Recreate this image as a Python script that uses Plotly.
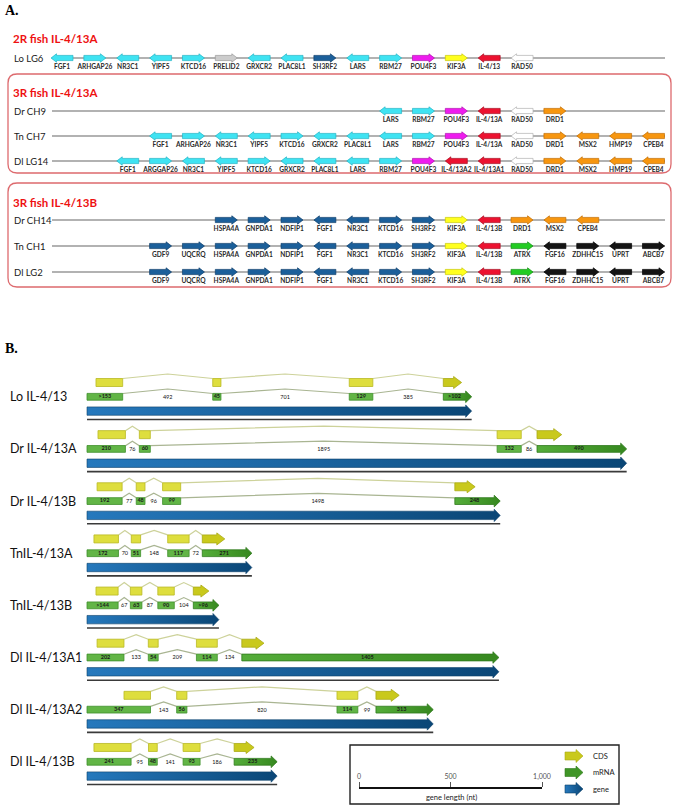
import plotly.graph_objects as go
from itertools import accumulate

W, H = 675, 806

# ---------------- Panel A data (synteny) ----------------
LO_LG6_GENES = ["FGF1", "ARHGAP26", "NR3C1", "YIPF5", "KTCD16", "PRELID2", "GRXCR2", "PLAC8L1",
                "SH3RF2", "LARS", "RBM27", "POU4F3", "KIF3A", "IL-4/13", "RAD50"]
LO_LG6_STRAND = [-1, 1, -1, -1, 1, 1, -1, -1, 1, -1, 1, 1, 1, -1, -1]

DR_CH9_GENES = ["LARS", "RBM27", "POU4F3", "IL-4/13A", "RAD50", "DRD1"]
DR_CH9_STRAND = [-1, 1, 1, -1, -1, 1]

TN_CH7_GENES = ["FGF1", "ARHGAP26", "NR3C1", "YIPF5", "KTCD16", "GRXCR2", "PLAC8L1", "LARS", "RBM27",
                "POU4F3", "IL-4/13A", "RAD50", "DRD1", "MSX2", "HMP19", "CPEB4"]
TN_CH7_STRAND = [-1, 1, -1, -1, 1, -1, -1, -1, 1, 1, -1, -1, 1, -1, -1, -1]

DL_LG14_GENES = ["FGF1", "ARGGAP26", "NR3C1", "YIPF5", "KTCD16", "GRXCR2", "PLAC8L1", "LARS", "RBM27",
                 "POU4F3", "IL-4/13A2", "IL-4/13A1", "RAD50", "DRD1", "MSX2", "HMP19", "CPEB4"]
DL_LG14_STRAND = [-1, 1, -1, -1, 1, -1, -1, -1, 1, 1, -1, -1, -1, 1, -1, -1, -1]

DR_CH14_GENES = ["HSPA4A", "GNPDA1", "NDFIP1", "FGF1", "NR3C1", "KTCD16", "SH3RF2", "KIF3A",
                 "IL-4/13B", "DRD1", "MSX2", "CPEB4"]
DR_CH14_STRAND = [1, 1, 1, -1, -1, 1, 1, 1, -1, 1, -1, -1]

TN_CH1_GENES = ["GDF9", "UQCRQ", "HSPA4A", "GNPDA1", "NDFIP1", "FGF1", "NR3C1", "KTCD16", "SH3RF2",
                "KIF3A", "IL-4/13B", "ATRX", "FGF16", "ZDHHC15", "UPRT", "ABCB7"]
TN_CH1_STRAND = [1, 1, 1, 1, 1, -1, -1, 1, 1, 1, -1, 1, -1, 1, -1, 1]

DL_LG2_GENES = ["GDF9", "UQCRQ", "HSPA4A", "GNPDA1", "NDFIP1", "FGF1", "NR3C1", "KTCD16", "SH3RF2",
                "KIF3A", "IL-4/13B", "ATRX", "FGF16", "ZDHHC15", "UPRT", "ABCB7"]
DL_LG2_STRAND = [1, 1, 1, 1, 1, -1, -1, 1, 1, 1, -1, 1, -1, 1, -1, 1]

A_ROW_NAMES = ["Lo LG6", "Dr CH9", "Tn CH7", "Dl LG14", "Dr CH14", "Tn CH1", "Dl LG2"]
A_ROW_FIRST_SLOT = [0, 10, 3, 2, 5, 3, 3]
A_ROW_GENES = [LO_LG6_GENES, DR_CH9_GENES, TN_CH7_GENES, DL_LG14_GENES, DR_CH14_GENES, TN_CH1_GENES, DL_LG2_GENES]
A_ROW_STRAND = [LO_LG6_STRAND, DR_CH9_STRAND, TN_CH7_STRAND, DL_LG14_STRAND, DR_CH14_STRAND, TN_CH1_STRAND, DL_LG2_STRAND]
A_ROW_BLOCK = ["A", "A", "A", "A", "B", "B", "B"]
A_BLOCK_TITLES = ["2R fish IL-4/13A", "3R fish IL-4/13A", "3R fish IL-4/13B"]

# ---------------- Panel B data (gene structures, nt) ----------------
B_NAMES = ["Lo IL-4/13", "Dr IL-4/13A", "Dr IL-4/13B", "TnIL-4/13A", "TnIL-4/13B",
           "Dl IL-4/13A1", "Dl IL-4/13A2", "Dl IL-4/13B"]
# exon, intron, exon, intron, exon, intron, exon (drawn lengths, nt)
B_SEGMENTS = [
    [195, 492, 45, 701, 129, 385, 155],
    [210, 76, 60, 1895, 132, 86, 490],
    [192, 77, 48, 96, 99, 1498, 248],
    [172, 70, 51, 148, 117, 72, 271],
    [170, 67, 63, 87, 90, 104, 140],
    [202, 133, 54, 209, 114, 134, 1405],
    [347, 143, 56, 820, 114, 99, 313],
    [241, 95, 48, 141, 93, 186, 235],
]
B_SEG_LABELS = [
    [">153", "492", "45", "701", "129", "385", ">102"],
    ["210", "76", "60", "1895", "132", "86", "490"],
    ["192", "77", "48", "96", "99", "1498", "248"],
    ["172", "70", "51", "148", "117", "72", "271"],
    [">144", "67", "63", "87", "90", "104", ">96"],
    ["202", "133", "54", "209", "114", "134", "1405"],
    ["347", "143", "56", "820", "114", "99", "313"],
    ["241", "95", "48", "141", "93", "186", "235"],
]
B_UTR5 = [49, 60, 55, 38, 49, 55, 202, 38]
B_UTR3 = [55, 355, 137, 148, 55, 1284, 186, 126]

SCALE_TICKS = [0, 500, 1000]
SCALE_TICK_TEXT = ["0", "500", "1,000"]
LEGEND_ITEMS = ["CDS", "mRNA", "gene"]

# ---------------- layout constants & styles ----------------
PX_PER_SLOT = 32.86
SLOT0_PX = 62
A_ROW_Y = [58, 111, 136, 161, 220, 246, 272]
A_TITLE_Y = [38, 92, 202]
A_LINE_PX = (52, 665)

NT_PX = 0.183
NT0_PX = 87
B_ROW0 = 382.5
B_ROW_STEP = 52.14

CYAN, CYAN_L = "#3fe3f2", "#23b5c6"
DBLUE, DBLUE_L = "#1b5f9a", "#0e3f6c"
COL_A = {"POU4F3": ("#ee1cee", "#b010b0"), "KIF3A": ("#ffff1e", "#c8c800"),
         "IL-4/13": ("#ec1230", "#a80a1e"), "IL-4/13A": ("#ec1230", "#a80a1e"),
         "IL-4/13A1": ("#ec1230", "#a80a1e"), "IL-4/13A2": ("#ec1230", "#a80a1e"),
         "RAD50": ("#ffffff", "#b0b0b0"), "DRD1": ("#f7960f", "#c26d00"), "MSX2": ("#f7960f", "#c26d00"),
         "HMP19": ("#f7960f", "#c26d00"), "CPEB4": ("#f7960f", "#c26d00"),
         "PRELID2": ("#cccccc", "#9a9a9a"), "SH3RF2": (DBLUE, DBLUE_L)}
COL_B = {"KIF3A": ("#ffff1e", "#c8c800"), "IL-4/13B": ("#ec1230", "#a80a1e"),
         "DRD1": ("#f7960f", "#c26d00"), "MSX2": ("#f7960f", "#c26d00"), "CPEB4": ("#f7960f", "#c26d00"),
         "ATRX": ("#22cc22", "#129012"), "FGF16": ("#141414", "#000000"), "ZDHHC15": ("#141414", "#000000"),
         "UPRT": ("#141414", "#000000"), "ABCB7": ("#141414", "#000000")}

FONT = "Lato, 'Open Sans', sans-serif"

fig = go.Figure()


def arrow_pts(x0, x1, yc, hb, hh, head, d):
    if d > 0:
        xs = [x0, x1 - head, x1 - head, x1, x1 - head, x1 - head, x0, x0]
    else:
        xs = [x1, x0 + head, x0 + head, x0, x0 + head, x0 + head, x1, x1]
    ys = [yc - hb, yc - hb, yc - hh, yc, yc + hh, yc + hb, yc + hb, yc - hb]
    return xs, ys


def rect_pts(x0, x1, yc, hb):
    return [x0, x1, x1, x0, x0], [yc - hb, yc - hb, yc + hb, yc + hb, yc - hb]


def poly(xs, ys, xa, fill, line, lw=0.8, grad=None):
    kw = dict(x=xs, y=ys, xaxis=xa, yaxis="y", mode="lines", fill="toself", fillcolor=fill,
              line=dict(color=line, width=lw), hoverinfo="skip", showlegend=False)
    if grad:
        kw["fillgradient"] = dict(type="horizontal", colorscale=grad)
    return go.Scatter(**kw)


def line_tr(xs, ys, xa, color, width):
    return go.Scatter(x=xs, y=ys, xaxis=xa, yaxis="y", mode="lines", line=dict(color=color, width=width),
                      hoverinfo="skip", showlegend=False)


def text_tr(xs, ys, texts, xa, size, color="#222", weight="normal", family=FONT):
    return go.Scatter(x=xs, y=ys, xaxis=xa, yaxis="y", mode="text", text=texts, textposition="middle center",
                      textfont=dict(size=size, color=color, family=family, weight=weight),
                      hoverinfo="skip", showlegend=False)


annotations = []
shapes = []

# ---------------- Panel A ----------------
annotations.append(dict(x=3, y=10, xref="x3", yref="y", text="A.", showarrow=False, xanchor="left",
                        yanchor="middle", font=dict(family="'Liberation Serif', serif", size=14, color="#000",
                                                    weight="bold")))
for t, ty in zip(A_BLOCK_TITLES, A_TITLE_Y):
    annotations.append(dict(x=11, y=ty, xref="x3", yref="y", text=t, showarrow=False, xanchor="left",
                            yanchor="middle", font=dict(family=FONT, size=11.5, color="#ee1111", weight="bold")))


def rounded_box(x0, y0, x1, y1, r):
    return (f"M {x0+r},{y0} L {x1-r},{y0} Q {x1},{y0} {x1},{y0+r} L {x1},{y1-r} Q {x1},{y1} {x1-r},{y1} "
            f"L {x0+r},{y1} Q {x0},{y1} {x0},{y1-r} L {x0},{y0+r} Q {x0},{y0} {x0+r},{y0} Z")


for (bx0, by0, bx1, by1) in [(8, 74, 671, 173), (8, 183, 671, 287)]:
    shapes.append(dict(type="path", xref="x3", yref="y", path=rounded_box(bx0, by0, bx1, by1, 9),
                       line=dict(color="#dd6a6e", width=1.3), fillcolor="rgba(0,0,0,0)", layer="below"))

slot_lo = (A_LINE_PX[0] - SLOT0_PX) / PX_PER_SLOT
slot_hi = (A_LINE_PX[1] - SLOT0_PX) / PX_PER_SLOT
half_len = 11 / PX_PER_SLOT
head_len = 5.5 / PX_PER_SLOT
for name, first, genes, strands, block, ry in zip(A_ROW_NAMES, A_ROW_FIRST_SLOT, A_ROW_GENES, A_ROW_STRAND,
                                                  A_ROW_BLOCK, A_ROW_Y):
    annotations.append(dict(x=12, y=ry, xref="x3", yref="y", text=name, showarrow=False, xanchor="left",
                            yanchor="middle", font=dict(family=FONT, size=9.5, color="#1a1a1a")))
    fig.add_trace(line_tr([slot_lo, slot_hi], [ry, ry], "x", "#666666", 1.1))
    cmap = COL_A if block == "A" else COL_B
    default = (CYAN, CYAN_L) if block == "A" else (DBLUE, DBLUE_L)
    slots = []
    for k, (g, d) in enumerate(zip(genes, strands)):
        s = first + k
        slots.append(s)
        fc, lc = cmap.get(g, default)
        xs, ys = arrow_pts(s - half_len, s + half_len, ry, 2.6, 4.2, head_len, d)
        fig.add_trace(poly(xs, ys, "x", fc, lc, 0.7))
    fig.add_trace(text_tr(slots, [ry + 9.5] * len(slots), genes, "x", 6.6, "#2a2a2a", "bold"))

# ---------------- Panel B ----------------
annotations.append(dict(x=3, y=348, xref="x3", yref="y", text="B.", showarrow=False, xanchor="left",
                        yanchor="middle", font=dict(family="'Liberation Serif', serif", size=14, color="#000",
                                                    weight="bold")))
CDS_FILL, CDS_LINE, CDS_ARROW = "#dede3e", "#b9b923", "#c9c91c"
MRNA_FILL, MRNA_LINE, MRNA_LAST = "#62b546", "#3f8f2b", "#3f9526"
CDS_CONN, MRNA_CONN = "#cdd29a", "#a9b592"
px = 1 / NT_PX  # one pixel in nt

for i, (name, segs, labs, u5, u3) in enumerate(zip(B_NAMES, B_SEGMENTS, B_SEG_LABELS, B_UTR5, B_UTR3)):
    yc = B_ROW0 + i * B_ROW_STEP
    ym = yc + 14.3
    yg = yc + 28.6
    yl = yc + 37
    bounds = [0] + list(accumulate(segs))
    total = bounds[-1]
    cds0, cds1 = u5, total - u3
    annotations.append(dict(x=8, y=ym, xref="x3", yref="y", text=name, showarrow=False, xanchor="left",
                            yanchor="middle", font=dict(family=FONT, size=12.5, color="#111")))
    # connectors (introns)
    for k in range(1, len(segs), 2):
        a, b = bounds[k], bounds[k + 1]
        fig.add_trace(line_tr([a, (a + b) / 2, b], [yc - 4, yc - 8.5, yc - 4], "x2", CDS_CONN, 1.2))
        fig.add_trace(line_tr([a, (a + b) / 2, b], [ym - 3.3, ym - 7.8, ym - 3.3], "x2", MRNA_CONN, 1.2))
    tx, ty, tt = [], [], []
    ix, iy, it = [], [], []
    for k in range(0, len(segs), 2):
        s, e = bounds[k], bounds[k + 1]
        last = (k == len(segs) - 1)
        # CDS
        cs, ce = max(s, cds0), min(e, cds1)
        if ce > cs:
            if last:
                xs, ys = arrow_pts(cs, ce, yc, 4, 6, 8 * px, 1)
                fig.add_trace(poly(xs, ys, "x2", CDS_ARROW, "#a9a915", 0.8))
            else:
                xs, ys = rect_pts(cs, ce, yc, 4)
                fig.add_trace(poly(xs, ys, "x2", CDS_FILL, CDS_LINE, 0.8))
        # mRNA
        if last:
            xs, ys = arrow_pts(s, e, ym, 3.4, 5.8, 6 * px, 1)
            fig.add_trace(poly(xs, ys, "x2", MRNA_LAST, "#2f7a1c", 0.8,
                               grad=[[0, "#55ad3a"], [1, "#36881f"]]))
            tx.append((s + e - 6 * px) / 2)
        else:
            xs, ys = rect_pts(s, e, ym, 3.4)
            fig.add_trace(poly(xs, ys, "x2", MRNA_FILL, MRNA_LINE, 0.8))
            tx.append((s + e) / 2)
        ty.append(ym)
        tt.append(labs[k])
    for k in range(1, len(segs), 2):
        ix.append((bounds[k] + bounds[k + 1]) / 2)
        iy.append(ym + 0.5)
        it.append(labs[k])
    # gene bar
    xs, ys = arrow_pts(0, total, yg, 4.2, 6.2, 6 * px, 1)
    fig.add_trace(poly(xs, ys, "x2", DBLUE, "#0b3f6a", 0.6, grad=[[0, "#2679bd"], [1, "#0a4676"]]))
    fig.add_trace(line_tr([0, total], [yl, yl], "x2", "#3a3a3a", 1.6))
    fig.add_trace(text_tr(tx, ty, tt, "x2", 5.5, "#1a1a1a", "bold"))
    fig.add_trace(text_tr(ix, iy, it, "x2", 5.5, "#111", "normal"))

# ---------------- Legend / scale box ----------------
shapes.append(dict(type="rect", xref="x3", yref="y", x0=350, y0=745, x1=619, y1=804,
                   line=dict(color="#222", width=1.4), fillcolor="rgba(0,0,0,0)"))
legend_fill = [(CDS_ARROW, "#a9a915", None), (MRNA_LAST, "#2f7a1c", None),
               (DBLUE, "#0b3f6a", [[0, "#2679bd"], [1, "#0a4676"]])]
for j, (lab, (fc, lc, gr)) in enumerate(zip(LEGEND_ITEMS, legend_fill)):
    ly = 756 + j * 16.5
    xs, ys = arrow_pts(565, 583, ly, 4, 6.5, 7, 1)
    fig.add_trace(poly(xs, ys, "x3", fc, lc, 0.6, grad=gr))
    annotations.append(dict(x=591, y=ly, xref="x3", yref="y", text=lab, showarrow=False, xanchor="left",
                            yanchor="middle", font=dict(family=FONT, size=7.5, color="#222")))
annotations.append(dict(x=451, y=797, xref="x3", yref="y", text="gene length (nt)", showarrow=False,
                        xanchor="center", yanchor="middle", font=dict(family=FONT, size=7.5, color="#222")))
# invisible anchors so every axis is built
fig.add_trace(go.Scatter(x=[0], y=[None], xaxis="x4", yaxis="y", mode="markers", showlegend=False,
                         hoverinfo="skip"))
fig.add_trace(go.Scatter(x=[0], y=[None], xaxis="x3", yaxis="y", mode="markers", showlegend=False,
                         hoverinfo="skip"))

SCALE_X0 = 359
fig.update_layout(
    template="none",
    width=W, height=H, margin=dict(l=0, r=0, t=0, b=0, pad=0, autoexpand=False),
    paper_bgcolor="white", plot_bgcolor="rgba(0,0,0,0)", showlegend=False,
    xaxis=dict(range=[-SLOT0_PX / PX_PER_SLOT, (W - SLOT0_PX) / PX_PER_SLOT], visible=False, domain=[0, 1],
               automargin=False),
    xaxis2=dict(range=[-NT0_PX / NT_PX, (W - NT0_PX) / NT_PX], overlaying="x", visible=False, automargin=False),
    xaxis3=dict(range=[0, W], overlaying="x", visible=False, automargin=False),
    xaxis4=dict(domain=[SCALE_X0 / W, (SCALE_X0 + 1000 * NT_PX) / W], range=[0, 1000], anchor="free",
                position=1 - 788 / H, side="top", tickvals=SCALE_TICKS, ticktext=SCALE_TICK_TEXT,
                showline=True, linecolor="#111", linewidth=1.5, ticks="outside", ticklen=5, tickwidth=0.8,
                tickcolor="#555", tickfont=dict(size=7, color="#555", family=FONT), showgrid=False,
                zeroline=False, fixedrange=True, automargin=False),
    yaxis=dict(range=[H, 0], visible=False, domain=[0, 1], automargin=False),
    annotations=annotations, shapes=shapes,
)
fig.write_html("out.html", config={"displayModeBar": False},
               post_script="document.body.style.margin='0';document.body.style.overflow='hidden';")
